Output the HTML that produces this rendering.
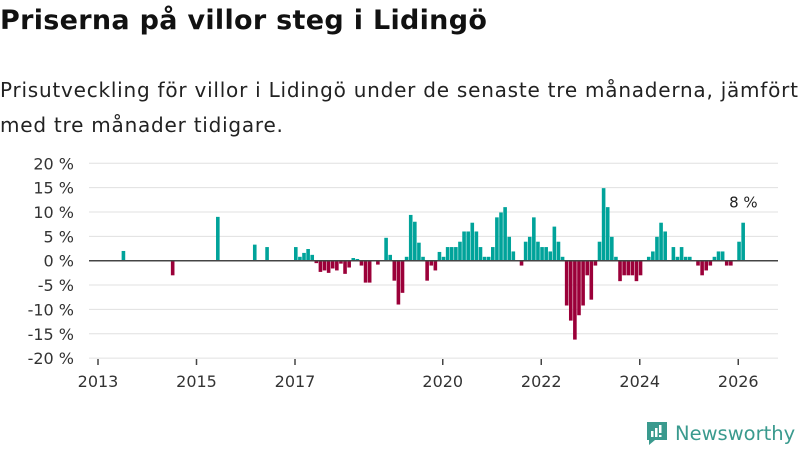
<!DOCTYPE html>
<html><head><meta charset="utf-8">
<style>
body{margin:0;width:800px;height:450px;background:#fff;font-family:"DejaVu Sans","Liberation Sans",sans-serif;overflow:hidden;position:relative;color:#111}
h1{position:absolute;left:0;top:5px;margin:0;font-size:27px;font-weight:bold;letter-spacing:0.3px}
.sub{position:absolute;left:0;top:73px;margin:0;font-size:20px;line-height:35px;color:#222;width:810px;letter-spacing:0.77px;white-space:nowrap}
svg{position:absolute;left:0;top:0}
</style></head><body>
<h1>Priserna på villor steg i Lidingö</h1>
<p class="sub">Prisutveckling för villor i Lidingö under de senaste tre månaderna, jämfört<br>med tre månader tidigare.</p>
<svg id="chart" width="800" height="450"></svg>
<div style="position:absolute;left:645px;top:420px;display:flex;align-items:center">
<svg width="24" height="26" style="position:static"><path d="M2 2h20v18h-12l-6 5v-5h-2z" fill="#3a9a8e"/><rect x="6" y="11" width="2.5" height="6" fill="#fff"/><rect x="10" y="8" width="2.5" height="9" fill="#fff"/><rect x="14" y="5" width="2.5" height="8" fill="#fff"/><rect x="14" y="15" width="2.5" height="2" fill="#fff"/></svg>
<span style="font-size:19.5px;color:#3a9a8e;margin-left:6px">Newsworthy</span></div>
<script>
const startYear = 2013;
const yTicks = [20,15,10,5,0,-5,-10,-15,-20];
const xTickYears = [2013,2015,2017,2020,2022,2024,2026];
const monthIdx = [6,18,29,38,41,48,49,50,51,52,53,54,55,56,57,58,59,60,61,62,63,64,65,66,68,70,71,72,73,74,75,76,77,78,79,80,81,82,83,84,85,86,87,88,89,90,91,92,93,94,95,96,97,98,99,100,101,103,104,105,106,107,108,109,110,111,112,113,114,115,116,117,118,119,120,121,122,123,124,125,126,127,128,129,130,131,132,134,135,136,137,138,140,141,142,143,144,146,147,148,149,150,151,152,153,154,156,157];
const values = [2,-3,9,3.3,2.8,2.8,0.8,1.6,2.4,1.2,-0.5,-2.3,-2,-2.5,-1.6,-2,-0.6,-2.7,-1.4,0.55,0.35,-1,-4.5,-4.5,-0.8,4.7,1.2,-4.1,-9,-6.6,0.8,9.4,8,3.7,0.8,-4.1,-1,-2,1.8,0.8,2.8,2.8,2.8,3.9,6,6,7.8,6,2.8,0.8,0.8,2.8,8.9,9.9,11,4.9,1.9,-1,3.9,4.9,8.9,3.9,2.8,2.8,1.9,7,3.9,0.8,-9.2,-12.3,-16.2,-11.2,-9.2,-3,-8,-1,3.9,14.9,11,4.9,0.8,-4.2,-3,-3,-3,-4.2,-3,0.8,1.9,4.9,7.8,6,2.8,0.8,2.8,0.8,0.8,-1,-3,-2,-1,0.8,1.9,1.9,-1,-1,3.9,7.8];
const lastLabel = "8 %";
const svg=document.getElementById('chart');
const NS='http://www.w3.org/2000/svg';
const x0=98, monthW=49.25/12, y0=260.7, yS=4.87;
const xScale=m=>x0+m*monthW;
const yScale=v=>y0-v*yS;
function mk(tag,attrs,text){const e=document.createElementNS(NS,tag);for(const k in attrs)e.setAttribute(k,attrs[k]);if(text!==undefined)e.textContent=text;svg.appendChild(e);return e;}
yTicks.forEach(t=>{
  if(t!==0){const g=mk('line',{x1:89,x2:778,y1:yScale(t),y2:yScale(t),stroke:'#e0e0e0','stroke-width':1});
  
  }
  const l=mk('text',{x:74,y:yScale(t)+6,'text-anchor':'end','font-size':16,fill:'#333'},t+' %');
  
  
});
xTickYears.forEach(yr=>{
  const x=xScale((yr-startYear)*12);
  const t=mk('line',{x1:x,x2:x,y1:359,y2:365,stroke:'#444','stroke-width':1.5});
  
  
  const l=mk('text',{x:x,y:387,'text-anchor':'middle','font-size':16,fill:'#333'},yr);
  
  
});
monthIdx.forEach((m,i)=>{
  const v=values[i];const x=xScale(m)-1;
  const y=Math.min(yScale(v),y0),h=Math.abs(yScale(v)-y0);
  const b=mk('rect',{x:x,y:y,width:3.6,height:h,fill:v>=0?'#00a39a':'#9b0039'});
  
  
});
const z=mk('line',{x1:89,x2:778,y1:y0,y2:y0,stroke:'#444','stroke-width':1.5});


const lm=monthIdx[monthIdx.length-1], lv=values[values.length-1];
const ll=mk('text',{x:xScale(lm)+1,y:yScale(lv)-15,'text-anchor':'middle','font-size':15,fill:'#222'},lastLabel);


</script>
</body></html>
